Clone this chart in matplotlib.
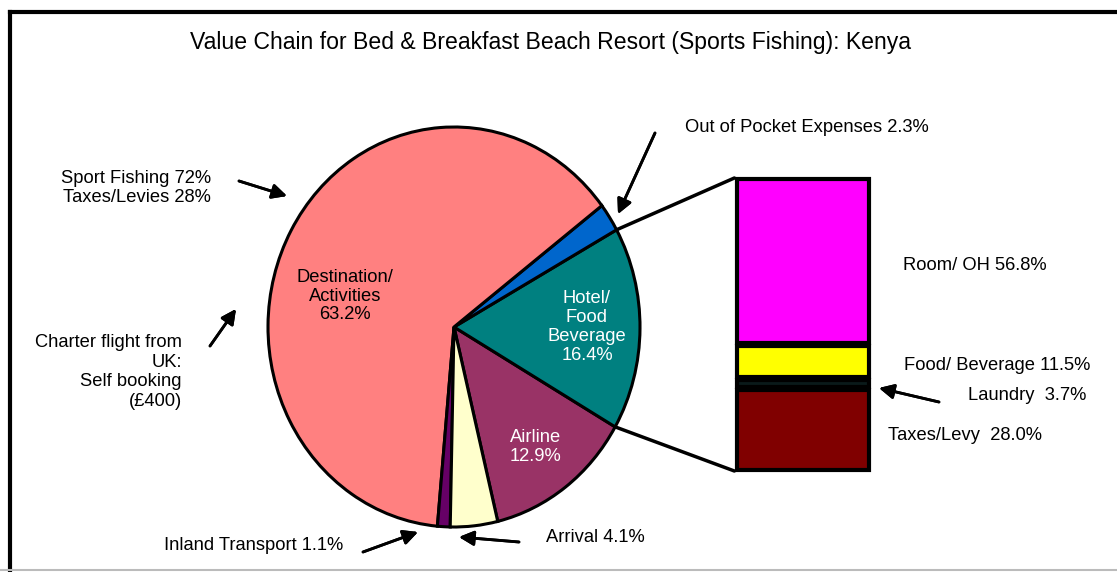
import numpy as np
import matplotlib.pyplot as plt
from matplotlib.lines import Line2D
from matplotlib.patches import ConnectionPatch

plt.rcParams['font.family'] = ['Liberation Sans', 'DejaVu Sans']

# main pie (counter-clockwise order starting at Airline)
pie_labels = ['Airline', 'Hotel/ Food Beverage', 'Out of Pocket Expenses',
              'Destination/ Activities', 'Inland Transport', 'Arrival']
pie_values = [12.9, 16.4, 2.3, 63.2, 1.1, 4.1]
pie_colors = ['#993366', '#008080', '#0066CC', '#FF8080', '#660066', '#FFFFCC']

# breakdown of Hotel/ Food Beverage (top to bottom)
bar_labels = ['Room/ OH', 'Food/ Beverage', 'Laundry', 'Taxes/Levy']
bar_values = [56.8, 11.5, 3.7, 28.0]
bar_colors = ['#FF00FF', '#FFFF00', '#0A1A1A', '#800000']

W, H = 1117, 572
FS = 13.2
fig = plt.figure(figsize=(W / 100, H / 100), dpi=100)


def px(x, y):
    return x / W, 1 - y / H


# pie axes: centre (454, 327), rx 186, ry 200 px
ax = fig.add_axes([(454 - 186) / W, (H - 527) / H, 372 / W, 400 / H])
start = -76.4
wedges, _ = ax.pie(pie_values, colors=pie_colors, startangle=start, counterclock=True,
                   wedgeprops=dict(edgecolor='black', linewidth=2.2))
ax.set_aspect('auto')
ax.set_xlim(-1, 1)
ax.set_ylim(-1, 1)
ax.axis('off')

ax.text(-0.586, 0.155, 'Destination/\nActivities\n63.2%', ha='center', va='center',
        fontsize=FS, linespacing=1.15)
ax.text(0.715, 0.0, 'Hotel/\nFood\nBeverage\n16.4%', ha='center', va='center',
        fontsize=FS, color='white', linespacing=1.15)
ax.text(0.44, -0.6, 'Airline\n12.9%', ha='center', va='center',
        fontsize=FS, color='white', linespacing=1.15)

# bar of pie
bx = fig.add_axes([737 / W, (H - 471) / H, 132 / W, 293 / H])
bottoms = np.cumsum([0] + bar_values[::-1])[:-1][::-1]
gap = 1.0
for val, b, c in zip(bar_values, bottoms, bar_colors):
    bx.bar(0.5, val - gap, bottom=b + gap / 2, width=1, color=c, edgecolor='black',
           linewidth=3, clip_on=False)
bx.set_xlim(0, 1)
bx.set_ylim(0, 100)
bx.axis('off')

# connector lines from Hotel slice edges to bar
a_top = np.deg2rad(start + 3.6 * (pie_values[0] + pie_values[1]))
a_bot = np.deg2rad(start + 3.6 * pie_values[0])
for a, yb in [(a_top, 100), (a_bot, 0)]:
    con = ConnectionPatch(xyA=(np.cos(a), np.sin(a)), coordsA=ax.transData,
                          xyB=(-0.02, yb), coordsB=bx.transData,
                          color='black', linewidth=2.5)
    fig.add_artist(con)

# frame
fig.add_artist(Line2D([10 / W, 10 / W], [0, 1 - 12 / H], color='black', lw=3,
                      transform=fig.transFigure))
fig.add_artist(Line2D([10 / W, 1], [1 - 12 / H, 1 - 12 / H], color='black', lw=3,
                      transform=fig.transFigure))
fig.add_artist(Line2D([0, 1], [1 - 570 / H, 1 - 570 / H], color='#BBBBBB', lw=1.5,
                      transform=fig.transFigure))

fig.text(*px(550, 42), 'Value Chain for Bed & Breakfast Beach Resort (Sports Fishing): Kenya',
         ha='center', va='center', fontsize=16.6)

arrow = dict(arrowstyle='-|>', color='black', lw=2, mutation_scale=22, shrinkA=0, shrinkB=0)


def note(text, tx, ty, ax_, ay, ha='left', ls=1.15):
    fig.text(*px(tx, ty), text, ha=ha, va='center', fontsize=FS, linespacing=ls)
    if ax_ is not None:
        fig.add_artist(plt.annotate('', xy=px(*ay), xytext=px(*ax_),
                                    xycoords='figure fraction', textcoords='figure fraction',
                                    arrowprops=arrow))


note('Sport Fishing 72%\nTaxes/Levies 28%', 211, 188, (239, 181), (287, 196), ha='right', ls=1.08)
note('Charter flight from\nUK:\nSelf booking\n(£400)', 182, 372, (210, 346), (236, 309), ha='right', ls=1.18)
note('Out of Pocket Expenses 2.3%', 685, 128, (655, 133), (618, 214))
note('Room/ OH 56.8%', 903, 266, None, None)
note('Food/ Beverage 11.5%', 904, 366, None, None)
note('Laundry  3.7%', 968, 396, (939, 402), (879, 388))
note('Taxes/Levy  28.0%', 888, 436, None, None)
note('Inland Transport 1.1%', 164, 546, (363, 552), (418, 532))
note('Arrival 4.1%', 546, 537, (519, 542), (459, 537))

fig.savefig('out.png', dpi=100)
